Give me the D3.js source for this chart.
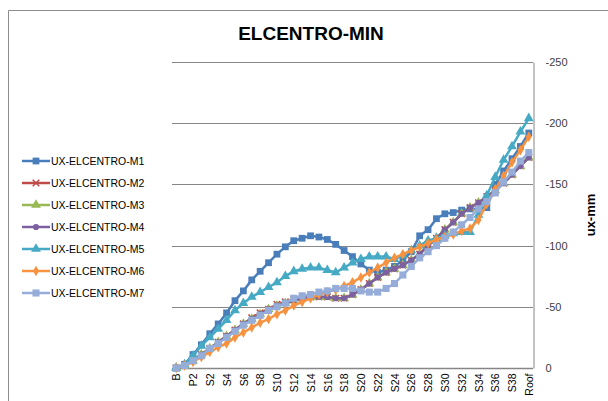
<!DOCTYPE html>
<html>
<head>
<meta charset="utf-8">
<script src="https://cdn.jsdelivr.net/npm/d3@7"></script>
<style>
  body { margin: 0; background: #fff; }
  svg { display: block; }
</style>
</head>
<body>
<div id="chart"></div>
<script>
// categories (floors)
const floors = ["B","P1","P2","S1","S2","S3","S4","S5","S6","S7","S8","S9","S10","S11","S12","S13","S14","S15","S16","S17","S18","S19","S20","S21","S22","S23","S24","S25","S26","S27","S28","S29","S30","S31","S32","S33","S34","S35","S36","S37","S38","S39","Roof"];

// displacement ux (mm)
const m1 = [0,-3,-11,-19,-28,-36,-45,-55,-63,-72,-79,-86,-93,-99,-104,-106,-108,-107,-105,-101,-96,-91,-85,-80,-78,-80,-83,-88,-95,-108,-113,-122,-126,-127,-129,-130,-130,-131,-150,-161,-171,-181,-192];
const m2 = [0,-2,-6,-11,-16,-21,-26,-31,-36,-41,-45,-48,-52,-54,-56,-57,-58,-58,-58,-57,-57,-60,-64,-69,-74,-78,-81,-84,-88,-93,-100,-106,-113,-119,-126,-131,-135,-140,-145,-151,-158,-165,-172];
const m3 = [0,-2,-6,-11,-16,-21,-26,-31,-36,-40,-44,-48,-51,-53,-55,-57,-58,-58,-58,-57,-57,-60,-64,-69,-74,-78,-81,-84,-88,-93,-100,-106,-113,-119,-126,-131,-135,-140,-145,-151,-158,-165,-172];
const m4 = [0,-2,-6,-11,-16,-21,-26,-31,-36,-40,-44,-48,-51,-53,-55,-57,-58,-58,-58,-57,-57,-60,-64,-69,-74,-78,-81,-84,-88,-93,-100,-106,-113,-119,-126,-131,-135,-140,-145,-151,-158,-165,-172];
const m5 = [0,-3,-10,-18,-25,-32,-39,-47,-53,-58,-62,-66,-70,-75,-79,-81,-82,-82,-80,-78,-82,-86,-89,-91,-91,-91,-89,-92,-96,-100,-104,-106,-108,-110,-111,-111,-125,-141,-156,-170,-181,-193,-204];
const m6 = [0,-2,-5,-9,-13,-17,-20,-25,-29,-33,-37,-40,-44,-47,-51,-54,-57,-60,-62,-64,-67,-70,-74,-78,-82,-86,-90,-93,-96,-99,-102,-105,-107,-109,-112,-114,-121,-134,-146,-157,-168,-178,-189];
const m7 = [0,-2,-6,-10,-16,-20,-25,-30,-35,-39,-43,-47,-50,-53,-57,-59,-60,-62,-63,-65,-65,-65,-63,-62,-62,-65,-69,-76,-83,-90,-95,-100,-106,-111,-117,-123,-130,-136,-143,-152,-160,-169,-176];

const seriesNames = ["UX-ELCENTRO-M1","UX-ELCENTRO-M2","UX-ELCENTRO-M3","UX-ELCENTRO-M4","UX-ELCENTRO-M5","UX-ELCENTRO-M6","UX-ELCENTRO-M7"];
const yTicks = [0,-50,-100,-150,-200,-250];

const colors = ["#4a7ebb","#be4b48","#98b954","#7d60a0","#46aac5","#f69240","#95add8"];
const symbols = [d3.symbolSquare, d3.symbolTimes, d3.symbolTriangle, d3.symbolCircle, d3.symbolTriangle, d3.symbolDiamond, d3.symbolSquare];
const symSizes = [46, 30, 42, 30, 42, 32, 50];

const series = [m1,m2,m3,m4,m5,m6,m7].map((v, i) => ({ name: seriesNames[i], values: v, color: colors[i], sym: symbols[i], size: symSizes[i] }));

const width = 608, height = 401;
const plot = { left: 172, right: 533, top: 62, bottom: 368 };
const font = "'Liberation Sans', Arial, sans-serif";

const svg = d3.select("#chart").append("svg")
    .attr("width", width)
    .attr("height", height)
    .style("font-family", font);

// chart frame (only top and left edges are in view)
svg.append("path")
    .attr("d", `M8.5,${height} V10.5 H${width}`)
    .attr("fill", "none")
    .attr("stroke", "#8c8c8c")
    .attr("stroke-width", 1);

const x = d3.scalePoint()
    .domain(floors)
    .range([plot.left, plot.right])
    .padding(0.5);

const y = d3.scaleLinear()
    .domain([0, -250])
    .range([plot.bottom, plot.top]);

// gridlines
svg.append("g")
    .selectAll("line")
    .data(yTicks.filter(d => d !== 0))
    .join("line")
    .attr("x1", plot.left)
    .attr("x2", plot.right)
    .attr("y1", d => Math.round(y(d)) + 0.5)
    .attr("y2", d => Math.round(y(d)) + 0.5)
    .attr("stroke", "#868686")
    .attr("stroke-width", 1);

// right value axis
const yAxis = svg.append("g")
    .attr("transform", `translate(${plot.right + 0.5},0)`)
    .call(d3.axisRight(y).tickValues(yTicks).tickSize(0).tickPadding(12).tickFormat(d => String(d)));
yAxis.select(".domain").attr("stroke", "#868686");
yAxis.selectAll("text")
    .attr("font-size", "11px")
    .attr("fill", "#404040")
    .style("font-family", font);

// bottom category axis
const xAxis = svg.append("g")
    .attr("transform", `translate(0,${plot.bottom + 0.5})`)
    .call(d3.axisBottom(x).tickValues(floors.filter((d, i) => i % 2 === 0)).tickSize(0).tickPadding(0));
xAxis.select(".domain")
    .attr("d", `M${plot.left},0H${plot.right}`)
    .attr("stroke", "#868686")
    .attr("stroke-width", 1.5);
xAxis.selectAll("text")
    .attr("transform", "rotate(-90)")
    .attr("text-anchor", "end")
    .attr("x", -5)
    .attr("y", 0)
    .attr("dy", "0.35em")
    .attr("font-size", "10.5px")
    .attr("fill", "#000")
    .style("font-family", font);

const line = d3.line()
    .x((d, i) => x(floors[i]))
    .y(d => y(d));

series.forEach(s => {
    const g = svg.append("g");
    g.append("path")
        .datum(s.values)
        .attr("d", line)
        .attr("fill", "none")
        .attr("stroke", s.color)
        .attr("stroke-width", 2.5)
        .attr("stroke-linejoin", "round");
    const isStroke = s.sym === d3.symbolTimes;
    g.selectAll("path.mk")
        .data(s.values)
        .join("path")
        .attr("class", "mk")
        .attr("transform", (d, i) => `translate(${x(floors[i])},${y(d)})`)
        .attr("d", d3.symbol().type(s.sym).size(s.size))
        .attr("fill", isStroke ? "none" : s.color)
        .attr("stroke", isStroke ? s.color : "none")
        .attr("stroke-width", 1.5);
});

// title
svg.append("text")
    .attr("x", 311)
    .attr("y", 40)
    .attr("text-anchor", "middle")
    .attr("font-size", "19px")
    .attr("font-weight", "bold")
    .attr("fill", "#000")
    .text("ELCENTRO-MIN");

// value axis title
svg.append("text")
    .attr("transform", `translate(595,215) rotate(-90)`)
    .attr("text-anchor", "middle")
    .attr("font-size", "13px")
    .attr("font-weight", "bold")
    .attr("fill", "#000")
    .text("ux-mm");

// legend
const legend = svg.append("g");
series.forEach((s, i) => {
    const ly = 161 + i * 22;
    const g = legend.append("g").attr("transform", `translate(0,${ly})`);
    g.append("line")
        .attr("x1", 22).attr("x2", 50)
        .attr("stroke", s.color)
        .attr("stroke-width", 2.5);
    const isStroke = s.sym === d3.symbolTimes;
    g.append("path")
        .attr("transform", "translate(36,0)")
        .attr("d", d3.symbol().type(s.sym).size(s.size))
        .attr("fill", isStroke ? "none" : s.color)
        .attr("stroke", isStroke ? s.color : "none")
        .attr("stroke-width", 1.5);
    g.append("text")
        .attr("x", 51)
        .attr("dy", "0.35em")
        .attr("font-size", "10.5px")
        .attr("fill", "#000")
        .text(s.name);
});
</script>
</body>
</html>
